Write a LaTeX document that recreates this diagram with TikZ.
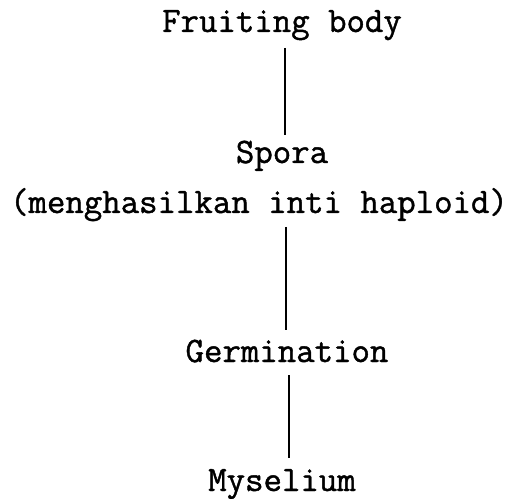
\documentclass[tikz,border=0pt]{standalone}
\usepackage{fontspec}
\newfontfamily\tw{Latin Modern Mono}[FakeBold=1.2]
\begin{document}
\begin{tikzpicture}[x=1pt,y=1pt,
  lbl/.style={anchor=base,inner sep=0pt,font=\tw\fontsize{35.8}{40}\selectfont},
  link/.style={line width=1.7pt}]
\useasboundingbox (0,0) rectangle (529,498);
\node[lbl] (fb) at (282,466) {Fruiting body};
\node[lbl] (sp) at (282,335) {Spora};
\node[lbl] (mh) at (259,285) {(menghasilkan inti haploid)};
\node[lbl] (ge) at (287,136) {Germination};
\node[lbl] (my) at (282,7) {Myselium};
\draw[link] ([xshift=3pt,yshift=-16pt]fb.base) -- ([xshift=3pt,yshift=28pt]sp.base);
\draw[link] ([xshift=27pt,yshift=-14pt]mh.base) -- ([xshift=-1pt,yshift=32pt]ge.base);
\draw[link] ([xshift=2pt,yshift=-13pt]ge.base) -- ([xshift=7pt,yshift=33pt]my.base);
\end{tikzpicture}
\end{document}
